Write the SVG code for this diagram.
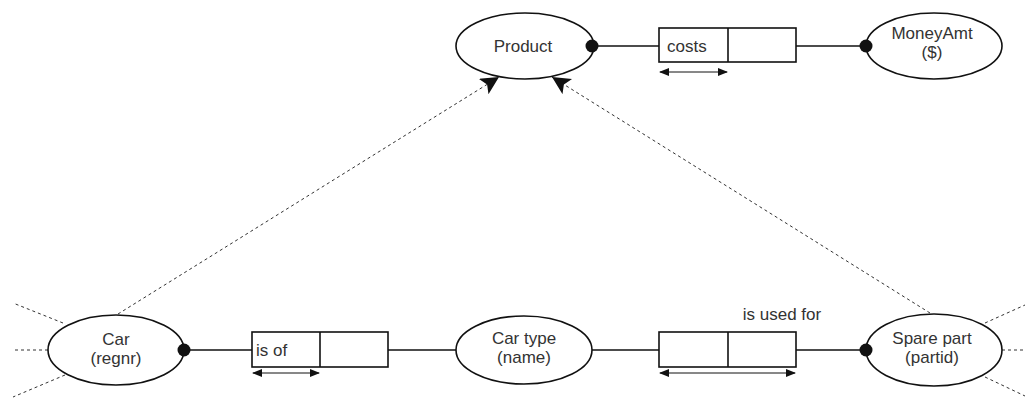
<svg xmlns="http://www.w3.org/2000/svg" width="1025" height="400" viewBox="0 0 1025 400">
<style>
.ent{fill:#fff;stroke:#111;stroke-width:1.6}
.box{fill:#fff;stroke:#111;stroke-width:1.6}
.ln{stroke:#111;stroke-width:1.6;fill:none}
.dash{stroke:#333;stroke-width:1;stroke-dasharray:3,3;fill:none}
.uq{stroke:#111;stroke-width:1;fill:none}
.dot{fill:#111}
text{font-family:"Liberation Sans",Arial,sans-serif;font-size:17px;fill:#333}
.c{text-anchor:middle}
</style>
<defs>
<marker id="sub" markerWidth="20" markerHeight="20" refX="18" refY="9" orient="auto" markerUnits="userSpaceOnUse">
<path d="M0,0 L18,9 L0,18 L4,9 Z" fill="#111"/>
</marker>
<marker id="ua" markerWidth="10" markerHeight="8" refX="9" refY="4" orient="auto-start-reverse" markerUnits="userSpaceOnUse">
<path d="M0,0 L10,4 L0,8 Z" fill="#111"/>
</marker>
</defs>
<g id="connectors">
<path class="dash" d="M118,314 L499,77" marker-end="url(#sub)"/>
<path class="dash" d="M930,313 L552,77" marker-end="url(#sub)"/>
<path class="dash" d="M63,323 L13,303"/>
<path class="dash" d="M48,350 L13,350"/>
<path class="dash" d="M65,375 L13,397"/>
<path class="dash" d="M985,323 L1025,305"/>
<path class="dash" d="M1002,350 L1025,350"/>
<path class="dash" d="M985,377 L1025,396"/>
<path class="ln" d="M592,46 L659,46"/>
<path class="ln" d="M796,46 L866,46"/>
<path class="ln" d="M184,350 L252,350"/>
<path class="ln" d="M388,350 L456,350"/>
<path class="ln" d="M592,350 L659,350"/>
<path class="ln" d="M796,350 L866,350"/>
</g>
<g id="product">
<ellipse class="ent" cx="525" cy="46" rx="69" ry="33"/>
<text class="c" x="523" y="52">Product</text>
<circle class="dot" cx="592" cy="46" r="6.5"/>
</g>
<g id="moneyamt">
<ellipse class="ent" cx="934" cy="46" rx="68" ry="33"/>
<text class="c" x="932" y="39">MoneyAmt</text>
<text class="c" x="932" y="58">($)</text>
<circle class="dot" cx="866" cy="46" r="6.5"/>
</g>
<g id="costs">
<rect class="box" x="659" y="28" width="137" height="34"/>
<line class="ln" x1="728" y1="28" x2="728" y2="62"/>
<text x="667" y="52">costs</text>
<line class="uq" x1="660" y1="72" x2="727" y2="72" marker-start="url(#ua)" marker-end="url(#ua)"/>
</g>
<g id="car">
<ellipse class="ent" cx="116" cy="350" rx="68" ry="35"/>
<text class="c" x="116" y="345">Car</text>
<text class="c" x="116" y="364">(regnr)</text>
<circle class="dot" cx="184" cy="350" r="6.5"/>
</g>
<g id="isof">
<rect class="box" x="252" y="332" width="136" height="35"/>
<line class="ln" x1="320" y1="332" x2="320" y2="367"/>
<text x="256" y="356">is of</text>
<line class="uq" x1="253" y1="373" x2="319" y2="373" marker-start="url(#ua)" marker-end="url(#ua)"/>
</g>
<g id="cartype">
<ellipse class="ent" cx="524" cy="350" rx="68" ry="34"/>
<text class="c" x="524" y="344">Car type</text>
<text class="c" x="524" y="363">(name)</text>
</g>
<g id="isusedfor">
<rect class="box" x="659" y="332" width="137" height="35"/>
<line class="ln" x1="728" y1="332" x2="728" y2="367"/>
<text class="c" x="782" y="320">is used for</text>
<line class="uq" x1="660" y1="373" x2="795" y2="373" marker-start="url(#ua)" marker-end="url(#ua)"/>
</g>
<g id="sparepart">
<ellipse class="ent" cx="934" cy="350" rx="68" ry="36"/>
<text class="c" x="932" y="344">Spare part</text>
<text class="c" x="932" y="363">(partid)</text>
<circle class="dot" cx="866" cy="350" r="6.5"/>
</g>
</svg>
